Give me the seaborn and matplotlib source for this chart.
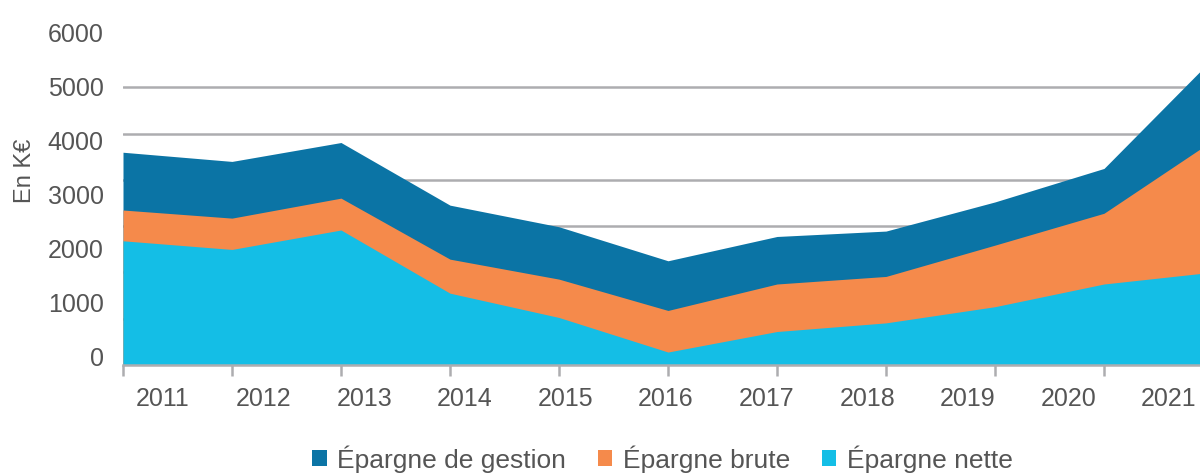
import numpy as np
import pandas as pd
import matplotlib
matplotlib.use("Agg")
import matplotlib.pyplot as plt
import matplotlib.transforms as mtransforms
from matplotlib.ticker import MultipleLocator, FixedLocator
from matplotlib.patches import Patch
import seaborn as sns

# Données (K€)
annees = [2011, 2012, 2013, 2014, 2015, 2016, 2017, 2018, 2019, 2020, 2021]
epargne_gestion = [3940, 3770, 4120, 2960, 2560, 1930, 2380, 2480, 3020, 3640, 5680]
epargne_brute = [2870, 2720, 3090, 1960, 1590, 1010, 1500, 1640, 2220, 2810, 4160]
epargne_nette = [2300, 2140, 2500, 1330, 880, 240, 620, 780, 1080, 1500, 1720]
series_noms = ["Épargne de gestion", "Épargne brute", "Épargne nette"]
y_ticks = [0, 1000, 2000, 3000, 4000, 5000, 6000]

df = pd.DataFrame({
    "annee": annees,
    series_noms[0]: epargne_gestion,
    series_noms[1]: epargne_brute,
    series_noms[2]: epargne_nette,
})

couleurs = {
    series_noms[0]: "#0B74A5",
    series_noms[1]: "#F58A4B",
    series_noms[2]: "#14BEE6",
}
gris_texte = "#555555"
gris_ligne = "#ADADB0"
taille = 18

sns.set_theme(style="white")
plt.rcParams["font.family"] = ["Liberation Sans", "DejaVu Sans"]

fig = plt.figure(figsize=(12, 4.73), dpi=100)
ax = fig.add_axes([123 / 1200, 1 - 365 / 473, 1 - 123 / 1200, 324 / 473])

# Aires superposées (non empilées), de la plus haute à la plus basse
for nom in series_noms:
    ax.fill_between(df["annee"], 0, df[nom], color=couleurs[nom], lw=0, zorder=2)

ax.set_xlim(annees[0], annees[0] + 1077 / 109)
ax.set_ylim(0, 6000)

# Quadrillage horizontal
ax.yaxis.set_minor_locator(MultipleLocator(6000 / 7))
ax.grid(which="minor", axis="y", color=gris_ligne, lw=1.8, zorder=0)
ax.grid(which="major", visible=False)
ax.set_axisbelow(True)

# Axe Y : étiquettes
ax.set_yticks(y_ticks)
ax.set_yticklabels([str(v) for v in y_ticks])
ax.tick_params(axis="y", which="both", length=0, pad=14, labelsize=taille, labelcolor=gris_texte)
decal = mtransforms.ScaledTranslation(0, 9 / 100, fig.dpi_scale_trans)
for lab in ax.get_yticklabels():
    lab.set_transform(lab.get_transform() + decal)
ax.set_ylabel("En K€", fontsize=17, color=gris_texte)
ax.yaxis.set_label_coords(-0.081, 0.60)

# Axe X : graduations aux années, étiquettes réparties
ax.xaxis.set_major_locator(FixedLocator(annees))
ax.set_xticklabels([])
pos_lab = [annees[0] + (40 + 100.6 * i) / 109 for i in range(len(annees))]
ax.xaxis.set_minor_locator(FixedLocator(pos_lab))
ax.set_xticklabels([str(a) for a in annees], minor=True)
ax.tick_params(axis="x", which="major", length=8, width=1.8, color=gris_ligne, direction="out", bottom=True)
ax.tick_params(axis="x", which="minor", length=0, pad=16, labelsize=taille, labelcolor=gris_texte, bottom=True)

for s in ["top", "right", "left"]:
    ax.spines[s].set_visible(False)
ax.spines["bottom"].set_color(gris_ligne)
ax.spines["bottom"].set_linewidth(1.8)
ax.spines["bottom"].set_zorder(3)

handles = [Patch(facecolor=couleurs[n], edgecolor="none") for n in series_noms]
fig.legend(handles, series_noms, loc="center", bbox_to_anchor=(0.552, 1 - 459 / 473),
           ncol=3, frameon=False, fontsize=19, labelcolor=gris_texte,
           handlelength=0.55, handleheight=0.55, handletextpad=0.4, columnspacing=1.2)

fig.savefig("out.png", dpi=100)
